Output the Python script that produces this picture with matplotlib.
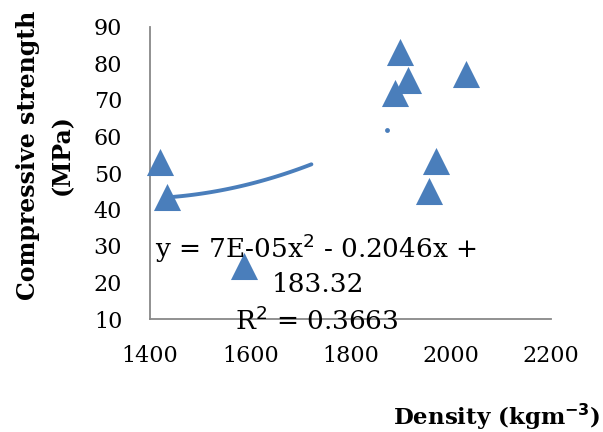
import numpy as np
import matplotlib
matplotlib.use("Agg")
import matplotlib.pyplot as plt

# data
density = [1419, 1433, 1588, 1899, 1915, 1889, 2030, 1970, 1957]
strength = [53.0, 43.5, 24.4, 83.2, 75.5, 72.0, 77.1, 53.2, 45.2]
dot_x = [1872]
dot_y = [61.8]
trend_coef = [7.48e-5, -0.2046, 182.9]
trend_range = [1433, 1722]
x_ticks = [1400, 1600, 1800, 2000, 2200]
y_ticks = [10, 20, 30, 40, 50, 60, 70, 80, 90]

blue = "#4a7ebb"
serif = ["DejaVu Serif"]

fig = plt.figure(figsize=(6.03, 4.32), dpi=100)
ax = fig.add_axes([150/603, 1 - 319/432, (551-150)/603, (319-27)/432])

ax.scatter(density, strength, marker="^", s=19.5**2, color=blue, zorder=3, linewidths=0,
           clip_on=False)
ax.scatter(dot_x, dot_y, marker="o", s=3.5**2, color=blue, zorder=3, linewidths=0)

tx = np.linspace(trend_range[0], trend_range[1], 100)
ty = np.polyval(trend_coef, tx)
ax.plot(tx, ty, color=blue, lw=2.8, solid_capstyle="round", zorder=2)

ax.set_xlim(1400, 2200)
ax.set_ylim(10, 90)
ax.set_xticks(x_ticks)
ax.set_yticks(y_ticks)
ax.tick_params(length=0, labelsize=16)
ax.tick_params(axis="y", pad=20)
ax.tick_params(axis="x", pad=19)
for lab in ax.get_xticklabels() + ax.get_yticklabels():
    lab.set_family(serif)
for s in ["top", "right"]:
    ax.spines[s].set_visible(False)
for s in ["left", "bottom"]:
    ax.spines[s].set_color("#888888")
    ax.spines[s].set_linewidth(1.3)
    ax.spines[s].set_zorder(1.5)

# trendline label
fig.text(317/603, 1 - 248/432, "y = 7E-05x$^2$ - 0.2046x + ", ha="center", va="center",
         fontsize=19, family=serif, zorder=1)
fig.text(318/603, 1 - 284/432, "183.32", ha="center", va="center", fontsize=19, family=serif)
fig.text(317/603, 1 - 321/432, "R$^2$ = 0.3663", ha="center", va="center", fontsize=19, family=serif)

fig.text(28/603, 1 - 155/432, "Compressive strength", rotation=90, ha="center", va="center",
         fontsize=17, fontweight="bold", family=serif)
fig.text(62/603, 1 - 155/432, "(MPa)", rotation=90, ha="center", va="center",
         fontsize=17, fontweight="bold", family=serif)
fig.text(600/603, 1 - 417/432, "Density (kgm$^{\\mathbf{-3}}$)", ha="right", va="center",
         fontsize=16.5, fontweight="bold", family=serif)

fig.savefig("out.png", dpi=100)
